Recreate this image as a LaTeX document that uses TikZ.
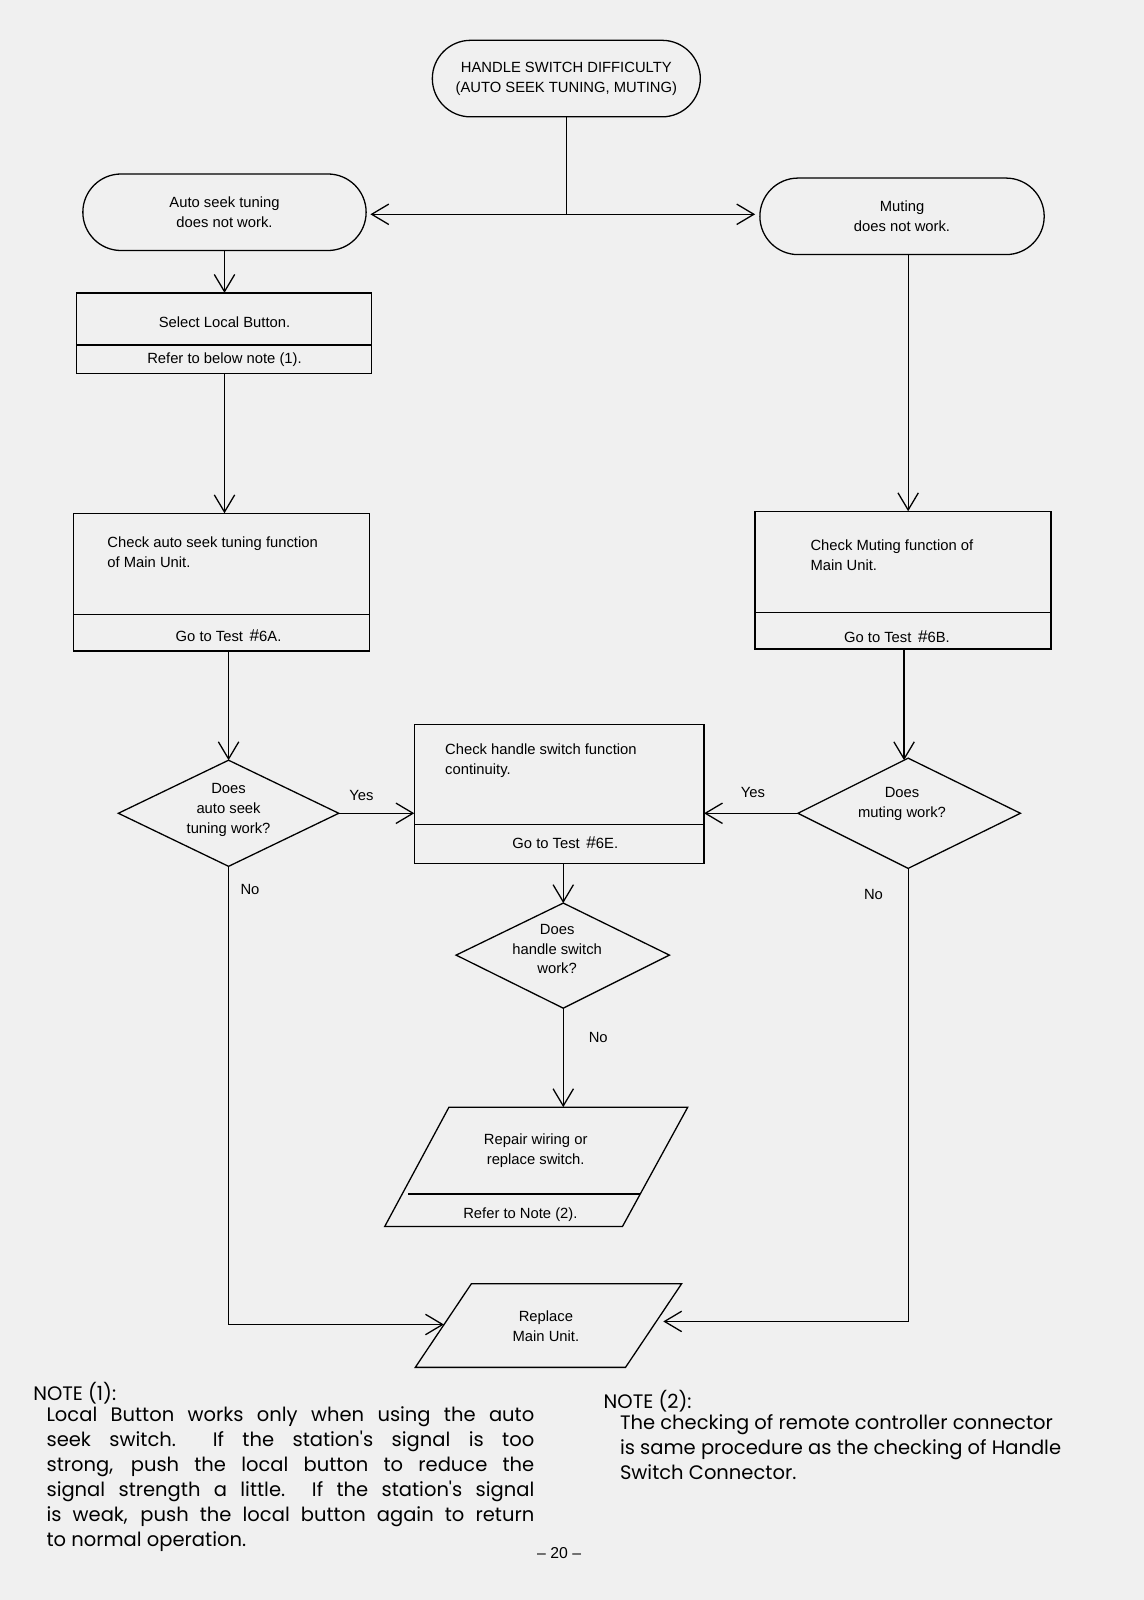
\documentclass[tikz,border=0pt]{standalone}
\usepackage{fontspec}
\setmainfont{Liberation Sans}
\newfontfamily\notefont{Poppins}
\usetikzlibrary{arrows.meta,shapes.misc}
\begin{document}
\begin{tikzpicture}[x=0.025cm,y=-0.025cm,line width=0.9pt,
  arr/.style={-{Straight Barb[length=0.42cm,width=0.5cm,line width=0.9pt]}},
  txt/.style={font=\fontsize{10.3}{13.8}\selectfont,align=center},
  ltxt/.style={font=\fontsize{10.3}{13.8}\selectfont,align=left,anchor=north west},
  lab/.style={font=\fontsize{10.3}{12}\selectfont},
  note/.style={font=\notefont\fontsize{13.6}{17.4}\selectfont,anchor=north west,inner sep=0pt}]
\useasboundingbox[fill=white!94!black] (0,0) rectangle (1121,1568);
% top terminator
\node[draw,rounded rectangle,minimum width=272*0.025cm,minimum height=75*0.025cm,txt] (top) at (555,77) {HANDLE SWITCH DIFFICULTY\\(AUTO SEEK TUNING, MUTING)};
\node[draw,rounded rectangle,minimum width=287*0.025cm,minimum height=75*0.025cm,txt] (auto) at (220,208) {Auto seek tuning\\does not work.};
\node[draw,rounded rectangle,minimum width=288*0.025cm,minimum height=75*0.025cm,txt] (mute) at (884,212) {Muting\\does not work.};
\coordinate (split) at (555,210);
\coordinate (autoE) at (363,210);
\coordinate (muteW) at (740,210);
\draw (top.south) -- (split);
\draw[arr] (split) -- (autoE);
\draw[arr] (split) -- (muteW);
% select local
\draw (75,287) rectangle (364,366); \draw (75,338) -- (364,338);
\node[txt] (sel) at (220,316) {Select Local Button.};
\node[txt] (ref1) at (220,352) {Refer to below note (1).};
\coordinate (selT) at (220,287); \coordinate (selB) at (220,366);
\draw[arr] (auto.south) -- (selT);
% check auto
\draw (72,503) rectangle (362,638); \draw (72,602) -- (362,602);
\node[ltxt] (cka) at (100,521) {Check auto seek tuning function\\of Main Unit.};
\node[txt] (g6a) at (224,623) {Go to Test \,{\large\#}6A.};
\coordinate (ckaT) at (220,503); \coordinate (ckaB) at (224,638);
\draw[arr] (selB) -- (ckaT);
% check muting
\draw (740,501) rectangle (1030,636); \draw (740,600) -- (1030,600);
\node[ltxt] (ckm) at (789,524) {Check Muting function of\\Main Unit.};
\node[txt] (g6b) at (879,624) {Go to Test \,{\large\#}6B.};
\coordinate (ckmT) at (890,501); \coordinate (ckmB) at (886,636);
\draw[arr] (890,250) -- (ckmT);
% diamonds
\draw (116,797) coordinate (dlW) -- (224,745) coordinate (dlN) -- (332,797) coordinate (dlE) -- (224,849) coordinate (dlS) -- cycle;
\node[txt] (dl) at (224,794) {Does\\auto seek\\tuning work?};
\draw (782,797) coordinate (drW) -- (890,743) coordinate (drN) -- (1000,797) coordinate (drE) -- (890,851) coordinate (drS) -- cycle;
\node[txt] (dr) at (884,788) {Does\\muting work?};
\draw[arr] (ckaB) -- (dlN);
\draw[arr] (ckmB) -- (886,745);
% middle box
\draw (406,710) rectangle (690,846); \draw (406,808) -- (690,808);
\node[ltxt] (ckh) at (431,724) {Check handle switch function\\continuity.};
\node[txt] (g6e) at (554,826) {Go to Test \,{\large\#}6E.};
\coordinate (mbL) at (406,797); \coordinate (mbR) at (690,797); \coordinate (mbB) at (552,846);
\draw[arr] (dlE) -- (mbL) node[lab,pos=0.3,above=5pt] (y1) {Yes};
\draw[arr] (drW) -- (mbR) node[lab,pos=0.48,above=7pt] (y2) {Yes};
% middle diamond
\draw (447,936) coordinate (dmW) -- (552,885) coordinate (dmN) -- (656,936) coordinate (dmE) -- (552,988) coordinate (dmS) -- cycle;
\node[txt] (dm) at (546,930) {Does\\handle switch\\work?};
\draw[arr] (mbB) -- (dmN);
% repair parallelogram
\draw (440,1085) -- (674,1085) -- (610,1202) -- (377,1202) -- cycle;
\draw (400,1170) -- (627,1170);
\node[txt] (rep) at (525,1128) {Repair wiring or\\replace switch.};
\node[txt] (ref2) at (510,1190) {Refer to Note (2).};
\coordinate (repT) at (552,1085);
\draw[arr] (dmS) -- (repT) node[lab,pos=0.3,right=14pt] (n3) {No};
% replace main unit
\draw (462,1258) -- (668,1258) -- (613,1340) -- (407,1340) -- cycle;
\node[txt] (rmu) at (535,1300) {Replace\\Main Unit.};
\coordinate (rmL) at (435,1298); \coordinate (rmR) at (650,1295);
\draw[arr] (dlS) -- (224,1298) -- (rmL);
\draw[arr] (drS) -- (890,1295) -- (rmR);
\node[lab] (n1) at (245,872) {No};
\node[lab] (n2) at (856,877) {No};
% notes
\node[note] (note1h) at (32,1354) {NOTE (1):};
\node[note,text width=478*0.025cm,align=justify] (note1) at (45,1378) {Local Button works only when using the auto\linebreak seek switch.\ \ If the station's signal is too\linebreak strong, push the local button to reduce the\linebreak signal strength a little.\ \ If the station's signal\linebreak is weak, push the local button again to return\linebreak to normal operation.};
\node[note] (note2h) at (591,1362) {NOTE (2):};
\node[note,align=left] (note2) at (607,1386) {The checking of remote controller connector\\is same procedure as the checking of Handle\\Switch Connector.};
\node[font=\fontsize{11}{13}\selectfont] (pg) at (548,1522) {-- 20 --};
\end{tikzpicture}
\end{document}
